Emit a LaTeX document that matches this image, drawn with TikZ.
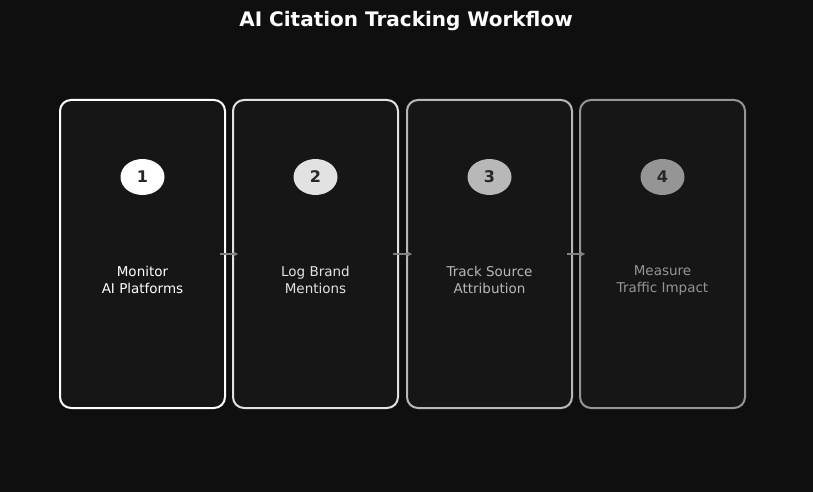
\documentclass[tikz,border=0pt]{standalone}
\usepackage{fontspec}
\setmainfont{DejaVu Sans}
\usetikzlibrary{shapes.geometric,arrows.meta}
\definecolor{bg}{HTML}{0F0F0F}
\definecolor{card}{HTML}{161616}
\definecolor{cA}{HTML}{FFFFFF}
\definecolor{cB}{HTML}{E2E2E2}
\definecolor{cC}{HTML}{B8B8B8}
\definecolor{cD}{HTML}{959595}
\begin{document}
\begin{tikzpicture}[x=1pt,y=-1pt,
  cardbox/.style={draw=#1,line width=2pt,fill=card,rounded corners=11pt,minimum width=165pt,minimum height=308pt},
  numc/.style={ellipse,fill=#1,minimum width=44pt,minimum height=36pt,inner sep=0pt,font=\bfseries\fontsize{16}{16}\selectfont,text=black!85},
  lbl/.style={text=#1,align=center,font=\fontsize{13.5}{17}\selectfont},
  conn/.style={-{Stealth[length=5pt,width=5pt]},draw=gray,line width=1.5pt}]
\fill[bg] (0,0) rectangle (813,492);
\node[text=white,font=\bfseries\fontsize{20}{20}\selectfont] (title) at (406,21) {AI Citation Tracking Workflow};
\foreach \i/\x/\c/\t in {1/142.5/cA/{Monitor\\AI Platforms},2/315.5/cB/{Log Brand\\Mentions},3/489.5/cC/{Track Source\\Attribution},4/662.5/cD/{Measure\\Traffic Impact}}{
  \node[cardbox=\c] (b\i) at (\x,254) {};
  \node[numc=\c] (n\i) at (\x,177) {\i};
  \node[lbl=\c] (l\i) at (\x,280) {\t};
}
\draw[conn] ([xshift=-6pt]b1.east) -- ([xshift=6pt]b2.west);
\draw[conn] ([xshift=-6pt]b2.east) -- ([xshift=6pt]b3.west);
\draw[conn] ([xshift=-6pt]b3.east) -- ([xshift=6pt]b4.west);
\end{tikzpicture}
\end{document}
